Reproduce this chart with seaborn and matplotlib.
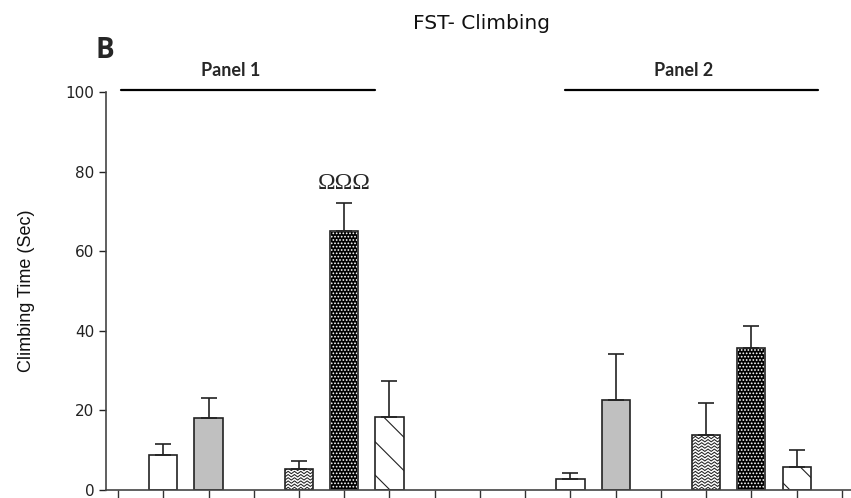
import numpy as np
import pandas as pd
import seaborn as sns
import matplotlib.pyplot as plt
from matplotlib.patches import Rectangle

# data (climbing time, seconds)
groups = ["G1", "G2", "G3", "G4", "G5"]
panel1_mean = [8.7, 18.0, 5.2, 65.0, 18.4]
panel1_sem = [2.9, 5.2, 2.2, 7.1, 9.0]
panel2_mean = [2.8, 22.6, 13.8, 35.8, 5.8]
panel2_sem = [1.4, 11.6, 8.1, 5.4, 4.2]
y_ticks = [0, 20, 40, 60, 80, 100]

# x slots as in the original (empty slots between groups)
slots = ["s0", "P1 G1", "P1 G2", "s3", "P1 G3", "P1 G4", "P1 G5", "s7", "s8",
         "s9", "P2 G1", "P2 G2", "s12", "P2 G3", "P2 G4", "P2 G5", "s16"]

df = pd.DataFrame({
    "slot": ["P1 " + g for g in groups] + ["P2 " + g for g in groups],
    "group": groups * 2,
    "time": panel1_mean + panel2_mean,
    "sem": panel1_sem + panel2_sem,
})
df["x"] = [slots.index(s) for s in df["slot"]]

face = {"G1": "white", "G2": "#c0c0c0", "G3": "white", "G4": "black", "G5": "white"}

sns.set_style("ticks")
plt.rcParams["hatch.linewidth"] = 0.8

fig = plt.figure(figsize=(8.51, 4.98), dpi=100)
ax = fig.add_axes([0.1246, 0.016, 0.8754, 0.799])

sns.barplot(data=df, x="slot", y="time", hue="group", order=slots,
            palette=face, width=0.62, dodge=False, legend=False,
            edgecolor="#222222", linewidth=1.2, ax=ax)

# one sided error bars (mean + SEM)
ax.errorbar(df["x"], df["time"], yerr=[np.zeros(len(df)), df["sem"]],
            fmt="none", ecolor="#222222", elinewidth=1.2, capsize=5.5,
            capthick=1.2, zorder=1)

# patterns for the bars
for p in list(ax.patches):
    xc = p.get_x() + p.get_width() / 2
    if p.get_height() == 0 or np.isnan(p.get_height()):
        continue
    g = df.loc[(df["x"] - xc).abs().idxmin(), "group"]
    x0, w, h = p.get_x(), p.get_width(), p.get_height()
    if g == "G4":
        p.set_edgecolor("white")
        p.set_hatch(".....")
        ax.add_patch(Rectangle((x0, 0), w, h, fill=False, edgecolor="#222222",
                               linewidth=1.2, zorder=p.get_zorder() + 0.1))
    elif g == "G5":
        p.set_hatch("\\")
    elif g == "G3":
        # wavy texture, clipped to the bar
        xs = np.arange(x0, x0 + w + 0.09, 0.07)
        amp = np.where(np.arange(len(xs)) % 2 == 0, -0.3, 0.3)
        for yy in np.arange(0.4, h + 0.8, 0.8):
            ln, = ax.plot(xs, yy + amp, color="#222222", lw=0.75,
                          zorder=p.get_zorder() + 0.05)
            ln.set_clip_path(p)

ax.set_xlim(-0.265, 16.2)
ax.set_ylim(0, 100)
ax.set_yticks(y_ticks)
ax.set_xticks(range(len(slots)))
ax.set_xticklabels([])
ax.set_xlabel("")
ax.set_ylabel("Climbing Time (Sec)", fontsize=13, color="#111111",
              family=["Liberation Sans Narrow", "Liberation Sans"], labelpad=22)
for lab in ax.get_yticklabels():
    lab.set_family("DejaVu Sans")
ax.tick_params(axis="y", length=5, width=1.0, labelsize=11, colors="#222222")
ax.tick_params(axis="x", length=6, width=1.0, colors="#333333")
sns.despine(ax=ax)
for s in ["left", "bottom"]:
    ax.spines[s].set_color("#444444")
    ax.spines[s].set_linewidth(1.2)

# significance marker
ax.text(slots.index("P1 G4"), 74.5, "\u03a9\u03a9\u03a9", ha="center", va="bottom",
        fontsize=17, family="Liberation Serif")

# panel bars and labels
ax.plot([0.07, 5.68], [100.5, 100.5], color="black", lw=1.6, clip_on=False)
ax.plot([9.88, 15.47], [100.5, 100.5], color="black", lw=1.6, clip_on=False)
ax.text(2.48, 105.5, "Panel 1", ha="center", va="center", fontsize=13,
        fontweight="bold", family="Lato")
ax.text(12.49, 105.5, "Panel 2", ha="center", va="center", fontsize=13,
        fontweight="bold", family="Lato")

fig.text(0.566, 0.952, "FST- Climbing", ha="center", va="center", fontsize=14.5,
         family="DejaVu Sans", color="#111111")
fig.text(0.112, 0.898, "B", ha="left", va="center", fontsize=20,
         fontweight="bold", family="Open Sans")

fig.savefig("out.png", dpi=100)
